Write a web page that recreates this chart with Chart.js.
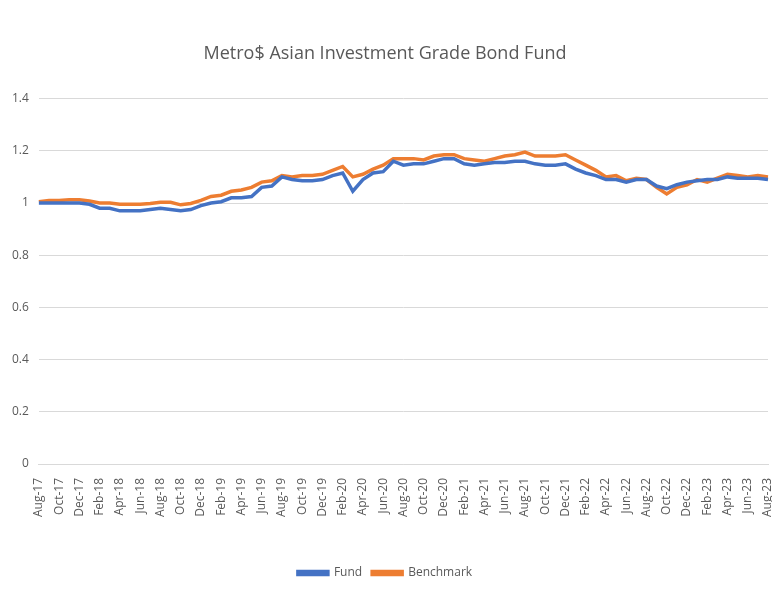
<!DOCTYPE html>
<html>
<head>
<meta charset="utf-8">
<script src="https://cdn.jsdelivr.net/npm/chart.js@4/dist/chart.umd.min.js"></script>
<style>
  html, body { margin: 0; padding: 0; background: #fff; }
  #wrap { width: 772px; height: 593px; position: relative; }
</style>
</head>
<body>
<div id="wrap"><canvas id="bondChart"></canvas></div>
<script>
// monthly labels Aug-17 .. Aug-23
const months = [
  'Aug-17','Sep-17','Oct-17','Nov-17','Dec-17',
  'Jan-18','Feb-18','Mar-18','Apr-18','May-18','Jun-18','Jul-18','Aug-18','Sep-18','Oct-18','Nov-18','Dec-18',
  'Jan-19','Feb-19','Mar-19','Apr-19','May-19','Jun-19','Jul-19','Aug-19','Sep-19','Oct-19','Nov-19','Dec-19',
  'Jan-20','Feb-20','Mar-20','Apr-20','May-20','Jun-20','Jul-20','Aug-20','Sep-20','Oct-20','Nov-20','Dec-20',
  'Jan-21','Feb-21','Mar-21','Apr-21','May-21','Jun-21','Jul-21','Aug-21','Sep-21','Oct-21','Nov-21','Dec-21',
  'Jan-22','Feb-22','Mar-22','Apr-22','May-22','Jun-22','Jul-22','Aug-22','Sep-22','Oct-22','Nov-22','Dec-22',
  'Jan-23','Feb-23','Mar-23','Apr-23','May-23','Jun-23','Jul-23','Aug-23'
];

const fundValues = [
  1.000, 1.000, 1.000, 1.000, 1.000,
  0.995, 0.980, 0.980, 0.970, 0.970, 0.970, 0.975, 0.980, 0.975, 0.970, 0.975, 0.990,
  1.000, 1.005, 1.020, 1.020, 1.025, 1.060, 1.065, 1.100, 1.090, 1.085, 1.085, 1.090,
  1.105, 1.115, 1.045, 1.090, 1.115, 1.120, 1.160, 1.145, 1.150, 1.150, 1.160, 1.170,
  1.170, 1.150, 1.145, 1.150, 1.155, 1.155, 1.160, 1.160, 1.150, 1.145, 1.145, 1.150,
  1.130, 1.115, 1.105, 1.090, 1.090, 1.080, 1.090, 1.090, 1.065, 1.055, 1.070, 1.080,
  1.085, 1.090, 1.090, 1.100, 1.095, 1.095, 1.095, 1.090
];

const benchmarkValues = [
  1.005, 1.010, 1.010, 1.012, 1.012,
  1.008, 1.000, 1.000, 0.995, 0.995, 0.995, 0.998, 1.003, 1.003, 0.993, 0.998, 1.010,
  1.025, 1.030, 1.045, 1.050, 1.060, 1.080, 1.085, 1.105, 1.100, 1.105, 1.105, 1.110,
  1.125, 1.140, 1.100, 1.110, 1.130, 1.145, 1.170, 1.170, 1.170, 1.165, 1.180, 1.185,
  1.185, 1.170, 1.165, 1.160, 1.170, 1.180, 1.185, 1.195, 1.180, 1.180, 1.180, 1.185,
  1.165, 1.145, 1.125, 1.100, 1.105, 1.085, 1.095, 1.090, 1.060, 1.035, 1.060, 1.070,
  1.090, 1.080, 1.095, 1.110, 1.105, 1.100, 1.105, 1.100
];

const yTicks = [0, 0.2, 0.4, 0.6, 0.8, 1, 1.2, 1.4];

const textColor = '#595959';
const gridColor = '#d9d9d9';
const fontFamily = '"Open Sans", sans-serif';

new Chart(document.getElementById('bondChart'), {
  type: 'line',
  data: {
    labels: months,
    datasets: [
      {
        label: 'Fund',
        data: fundValues,
        borderColor: '#4472C4',
        backgroundColor: '#4472C4',
        borderWidth: 3.5,
        pointRadius: 0,
        tension: 0
      },
      {
        label: 'Benchmark',
        data: benchmarkValues,
        borderColor: '#ED7D31',
        backgroundColor: '#ED7D31',
        borderWidth: 3.5,
        pointRadius: 0,
        tension: 0
      }
    ]
  },
  options: {
    responsive: true,
    maintainAspectRatio: false,
    animation: false,
    layout: { padding: { left: 2, right: 4, top: 43, bottom: 4 } },
    plugins: {
      title: {
        display: true,
        text: 'Metro$ Asian Investment Grade Bond Fund',
        color: textColor,
        font: { family: fontFamily, size: 18, weight: 'normal' },
        padding: { top: 0, bottom: 34 }
      },
      legend: {
        position: 'bottom',
        labels: {
          color: textColor,
          font: { family: fontFamily, size: 12 },
          boxWidth: 30,
          boxHeight: 3,
          padding: 10
        }
      },
      tooltip: { enabled: false }
    },
    scales: {
      y: {
        min: 0,
        max: 1.4,
        afterBuildTicks: (axis) => { axis.ticks = yTicks.map(v => ({ value: v })); },
        ticks: {
          color: textColor,
          font: { family: fontFamily, size: 12 },
          padding: 10,
          callback: (v) => String(+Number(v).toFixed(1))
        },
        grid: { color: gridColor, drawTicks: false },
        border: { display: false }
      },
      x: {
        offset: false,
        afterFit: (axis) => {
          axis.height = 93;
          axis.paddingRight = 0;
        },
        ticks: {
          autoSkip: false,
          maxRotation: 90,
          minRotation: 90,
          color: textColor,
          font: { family: fontFamily, size: 12 },
          padding: 6,
          callback: function (val, i) { return i % 2 === 0 ? months[i] : ''; }
        },
        grid: { display: false },
        border: { color: gridColor }
      }
    }
  }
});
</script>
</body>
</html>
